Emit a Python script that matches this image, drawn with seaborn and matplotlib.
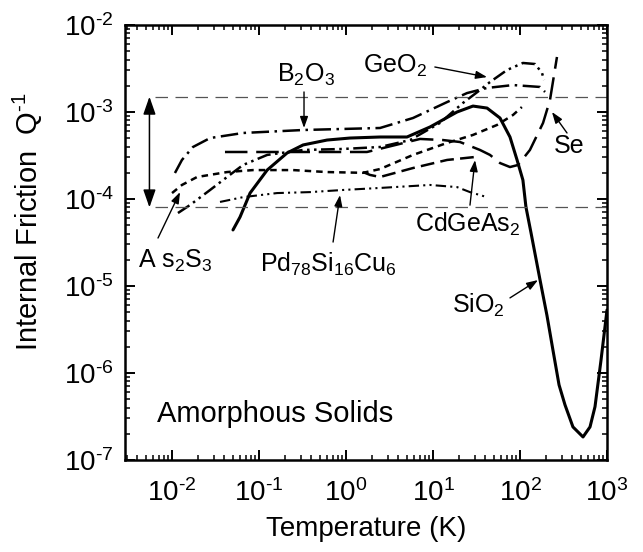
import numpy as np
import pandas as pd
import matplotlib
matplotlib.use("Agg")
import matplotlib.pyplot as plt
import seaborn as sns
from matplotlib.ticker import LogLocator, NullFormatter, FuncFormatter

# ---------------- data ----------------
sio2_T = [0.0502, 0.0605, 0.0789, 0.124, 0.210, 0.321, 0.605, 1.11, 2.46, 5.02, 9.25,
          18.9, 28.8, 41.8, 58.9, 76.7, 92.5, 108, 117, 134, 170, 204, 239, 281, 329,
          406, 530, 638, 728, 853, 1000]
sio2_Q = [4.41e-5, 6.21e-5, 1.17e-4, 2.15e-4, 3.38e-4, 4.18e-4, 4.76e-4, 5.02e-4, 5.16e-4,
          5.16e-4, 6.73e-4, 1.0e-3, 1.17e-3, 1.11e-3, 8.53e-4, 5.16e-4, 2.81e-4, 1.65e-4,
          8.1e-5, 4.06e-5, 1.17e-5, 4.6e-6, 1.84e-6, 7.3e-7, 4.3e-7, 2.4e-7, 1.84e-7,
          2.4e-7, 4.1e-7, 1.4e-6, 5.3e-6]

b2o3_T = [0.0108, 0.0130, 0.0174, 0.0274, 0.0655, 0.321, 2.46, 5.89, 14.5, 24.6, 41.8,
          83.2, 170, 194]
b2o3_Q = [1.99e-4, 2.81e-4, 3.96e-4, 5.02e-4, 5.74e-4, 6.21e-4, 6.55e-4, 8.53e-4, 1.30e-3,
          1.65e-3, 1.89e-3, 2.04e-3, 1.94e-3, 1.70e-3]

geo2_T = [0.0117, 0.0161, 0.0274, 0.0429, 0.0655, 0.124, 0.321, 0.925, 2.46, 5.45, 12.0,
          22.1, 34.7, 45.2, 71.0, 108, 149, 179, 189]
geo2_Q = [6.9e-5, 8.53e-5, 1.27e-4, 1.79e-4, 2.46e-4, 3.21e-4, 3.66e-4, 3.76e-4, 3.96e-4,
          4.76e-4, 7.48e-4, 1.27e-3, 1.79e-3, 2.21e-3, 3.04e-3, 3.66e-3, 3.56e-3, 2.81e-3,
          2.33e-3]

as2s3_T = [0.0100, 0.0130, 0.0194, 0.0429, 0.0853, 0.246, 0.605, 1.57, 2.46, 5.89, 14.5,
           28.8, 54.5, 83.2, 105]
as2s3_Q = [1.17e-4, 1.45e-4, 1.79e-4, 2.04e-4, 2.15e-4, 2.15e-4, 2.04e-4, 2.0e-4, 2.21e-4,
           3.21e-4, 4.41e-4, 5.45e-4, 7.1e-4, 9.25e-4, 1.14e-3]

se_T = [0.0406, 0.312, 1.74, 7.10, 13.0, 20.4, 34.7, 45.2, 58.9, 76.7, 94.8, 130, 184,
        221, 266]
se_Q = [3.47e-4, 3.47e-4, 3.47e-4, 4.9e-4, 4.76e-4, 4.52e-4, 3.66e-4, 3.21e-4, 2.59e-4,
        2.33e-4, 2.46e-4, 3.66e-4, 7.48e-4, 1.37e-3, 4.29e-3]

cdgeas2_T = [1.57, 1.89, 2.46, 5.89, 14.5, 30.4]
cdgeas2_Q = [2.04e-4, 1.89e-4, 1.79e-4, 2.27e-4, 2.81e-4, 3.04e-4]

pd_T = [0.0356, 0.0655, 0.161, 0.385, 0.925, 2.46, 9.25, 18.9, 26.6, 41.8]
pd_Q = [9.25e-5, 1.05e-4, 1.17e-4, 1.20e-4, 1.27e-4, 1.34e-4, 1.45e-4, 1.37e-4, 1.20e-4,
        1.05e-4]

ref_levels = [1.5e-3, 8e-5]          # "glassy range" band
ref_T_range = [0.0063, 1000]

x_ticks = [1e-2, 1e-1, 1e0, 1e1, 1e2, 1e3]
y_ticks = [1e-7, 1e-6, 1e-5, 1e-4, 1e-3, 1e-2]

# ---------------- style ----------------
sns.set_theme(style="ticks", rc={
    "axes.edgecolor": "black", "xtick.color": "black", "ytick.color": "black",
    "text.color": "black", "axes.labelcolor": "black"})
plt.rcParams["font.family"] = ["Liberation Sans", "DejaVu Sans"]
plt.rcParams["mathtext.fontset"] = "custom"
plt.rcParams["mathtext.rm"] = "Liberation Sans"
plt.rcParams["mathtext.it"] = "Liberation Sans:italic"
plt.rcParams["mathtext.bf"] = "Liberation Sans:bold"
plt.rcParams["mathtext.default"] = "regular"

fig = plt.figure(figsize=(6.43, 5.52), dpi=100)
ax = fig.add_axes([125 / 643, 92 / 552, 482 / 643, 435 / 552])

series = [
    (sio2_T, sio2_Q, "-", 2.2),
    (b2o3_T, b2o3_Q, (0, (7, 2.2, 1, 2.2)), 1.8),
    (geo2_T, geo2_Q, (0, (5.5, 1.8, 1, 1.8, 1, 1.8)), 1.8),
    (as2s3_T, as2s3_Q, (0, (2.6, 2)), 1.8),
    (se_T, se_Q, (0, (9, 3.5)), 1.8),
    (cdgeas2_T, cdgeas2_Q, (0, (5.5, 2.5)), 1.8),
    (pd_T, pd_Q, (0, (5, 2, 1, 2, 1, 2)), 1.5),
]
for T, Q, ls, lw in series:
    df = pd.DataFrame({"T": T, "Q": Q})
    sns.lineplot(data=df, x="T", y="Q", ax=ax, sort=False, estimator=None,
                 color="black", linewidth=lw, linestyle=ls, legend=False)

for lvl in ref_levels:
    sns.lineplot(x=ref_T_range, y=[lvl, lvl], ax=ax, color="#555555", linewidth=0.9,
                 linestyle=(0, (10, 6)), legend=False)

ax.set_xscale("log")
ax.set_yscale("log")
ax.set_xlim(0.00288, 1000)
ax.set_ylim(1e-7, 1e-2)

fmt = FuncFormatter(lambda v, p: r"$10^{\text{%d}}$" % int(round(np.log10(v))))
ax.set_xticks(x_ticks)
ax.set_yticks(y_ticks)
ax.xaxis.set_major_formatter(fmt)
ax.yaxis.set_major_formatter(fmt)
ax.xaxis.set_minor_locator(LogLocator(base=10, subs=np.arange(2, 10), numticks=30))
ax.yaxis.set_minor_locator(LogLocator(base=10, subs=np.arange(2, 10), numticks=30))
ax.xaxis.set_minor_formatter(NullFormatter())
ax.yaxis.set_minor_formatter(NullFormatter())
ax.tick_params(which="both", direction="in", top=True, right=True)
ax.tick_params(which="major", length=7, width=1.4, labelsize=20)
ax.tick_params(axis="x", which="major", pad=14)
ax.tick_params(axis="y", which="major", pad=8)
ax.tick_params(which="minor", length=3.5, width=1.1)
for s in ax.spines.values():
    s.set_linewidth(1.8)
    s.set_color("black")

ax.set_xlabel("Temperature (K)", fontsize=20, labelpad=6)
ax.set_ylabel(r"Internal Friction  Q$^{\text{-1}}$", fontsize=21)
ax.yaxis.set_label_coords(-0.165, 0.547)

# ---------------- annotations ----------------
arrow_kw = dict(arrowstyle="-|>,head_length=0.45,head_width=0.16", color="black",
                lw=1.0, mutation_scale=15, shrinkA=0, shrinkB=0)
labels = [
    # text, text position, arrow start, arrow tip
    (r"B$_2$O$_3$", (0.347, 2.21e-3), (0.329, 1.70e-3), (0.329, 6.55e-4)),
    (r"GeO$_2$", (3.66, 2.81e-3), (10.5, 3.29e-3), (41.8, 2.52e-3)),
    ("Se", (366, 3.38e-4), (347, 5.74e-4), (233, 1.0e-3)),
    (r"CdGeAs$_2$", (25.2, 4.18e-5), (26.6, 8.5e-5), (30.4, 2.8e-4)),
    (r"SiO$_2$", (32.9, 4.9e-6), (76.7, 7.3e-6), (161, 1.17e-5)),
    (r"Pd$_{78}$Si$_{16}$Cu$_6$", (0.621, 1.45e-5), (0.71, 3.2e-5), (0.853, 1.11e-4)),
    (r"A s$_2$S$_3$", (0.0108, 1.61e-5), (0.0069, 3.56e-5), (0.01236, 1.2e-4)),
]
for txt, pos, a0, a1 in labels:
    ax.text(pos[0], pos[1], txt, fontsize=18, ha="center", va="baseline")
    ax.annotate("", xy=a1, xytext=a0, arrowprops=arrow_kw)

ax.annotate("", xy=(0.0055, 8e-5), xytext=(0.0055, 1.5e-3),
            arrowprops=dict(arrowstyle="<|-|>,head_length=0.4,head_width=0.14",
                            color="black", lw=1.1, mutation_scale=27,
                            shrinkA=0, shrinkB=0))

ax.text(0.00673, 2.74e-7, "Amorphous Solids", fontsize=21, ha="left", va="baseline")

fig.savefig("out.png", dpi=100)
